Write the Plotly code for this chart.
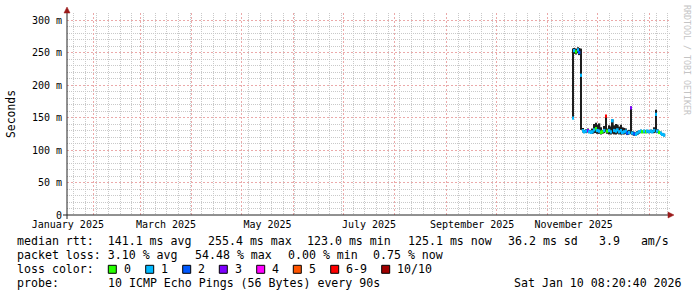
import plotly.graph_objects as go
import pandas as pd

# ---------------- data ----------------
start_day = "2025-11-16"
median_ms = [149, 253, 251, 254, 250, 215, 130, 128, 129, 130, 128, 127, 128, 131, 133, 130,
             129, 127, 128, 130, 152, 129, 130, 128, 145, 130, 129, 131, 128, 130, 127, 128,
             129, 126, 127, 165, 126, 125, 124, 126, 128, 129, 128, 129, 128, 129, 128, 129,
             128, 130, 155, 129, 127, 126, 124, 123]
smoke_lo = [148, 248, 247, 249, 246, 131, 127, 126, 126, 127, 126, 125, 125, 126, 126, 125,
            125, 124, 125, 126, 128, 125, 124, 124, 125, 124, 124, 125, 124, 124, 124, 124,
            125, 123, 124, 125, 123, 122, 122, 123, 125, 126, 126, 126, 126, 126, 126, 126,
            126, 126, 127, 126, 125, 124, 122, 121]
smoke_hi = [256, 257, 256, 258, 257, 256, 134, 131, 132, 133, 131, 130, 133, 140, 142, 139,
            141, 135, 131, 137, 154, 133, 138, 136, 147, 138, 140, 139, 136, 139, 135, 134,
            133, 130, 131, 167, 129, 128, 127, 129, 130, 131, 130, 131, 130, 131, 130, 131,
            131, 135, 162, 132, 129, 128, 126, 125]
loss_cnt = [1, 1, 0, 1, 2, 1, 1, 1, 1, 3, 1, 1, 1, 1, 0, 1,
            1, 0, 0, 1, 6, 0, 1, 1, 1, 1, 1, 1, 1, 1, 1, 1,
            1, 2, 1, 3, 1, 2, 1, 1, 1, 1, 0, 1, 0, 1, 1, 1,
            1, 1, 1, 1, 0, 1, 1, 1]

loss_labels = ["0", "1", "2", "3", "4", "5", "6-9", "10/10"]
loss_colors = ["#26ff00", "#00b8ff", "#0059ff", "#7e00ff", "#ff00ff", "#ff5500", "#ff0000", "#a10000"]

rtt_stats = [141.1, 255.4, 123.0, 125.1]   # avg, max, min, now (ms)
rtt_sd = 36.2
rtt_ams = 3.9
loss_stats = [3.10, 54.48, 0.00, 0.75]     # avg, max, min, now (%)
probe_text = "10 ICMP Echo Pings (56 Bytes) every 90s"
stamp_text = "Sat Jan 10 08:20:40 2026"

x_start = "2025-01-16 00:00"
x_end = "2026-01-13 09:07"
first_monday = "2025-01-20"
label_months = ["2025-01-16 12:00", "2025-03-16 12:00", "2025-05-16 12:00",
                "2025-07-16 12:00", "2025-09-16 12:00", "2025-11-16 12:00"]
label_texts = ["January 2025", "March 2025", "May 2025", "July 2025", "September 2025", "November 2025"]
y_ticks = [0, 50, 100, 150, 200, 250, 300]
y_ticktext = ["0" if v == 0 else f"{v} m" for v in y_ticks]
y_minor = [v for v in range(10, 301, 10) if v % 50]

# ---------------- derived ----------------
days = pd.date_range(start_day, periods=len(median_ms), freq="D")
month_starts = pd.date_range("2025-02-01", "2026-01-01", freq="MS")
mondays = [d for d in pd.date_range(first_monday, "2026-01-12", freq="7D")
           if d.day != 1]


def loss_color(n):
    if n >= 10:
        return loss_colors[7]
    if n >= 6:
        return loss_colors[6]
    return loss_colors[n]


DAY_MS = 86400000
MONO = "DejaVu Sans Mono"
RED_GRID = "#eba9a9"
GRAY_GRID = "#c9c9c9"

fig = go.Figure()
fig.add_trace(go.Bar(
    x=days, y=[h - l for h, l in zip(smoke_hi, smoke_lo)], base=smoke_lo,
    width=DAY_MS, marker=dict(color="#1e1e1e", line=dict(width=0)),
    showlegend=False, hoverinfo="skip"))
fig.add_trace(go.Bar(
    x=days, y=[5] * len(median_ms), base=[m - 2.5 for m in median_ms],
    width=DAY_MS, marker=dict(color=[loss_color(n) for n in loss_cnt], line=dict(width=0)),
    showlegend=False, hoverinfo="skip"))
# anchor trace for label axis
fig.add_trace(go.Scatter(x=[label_months[0]], y=[None], xaxis="x2", mode="markers",
                         showlegend=False, hoverinfo="skip"))

W, H = 697, 297
L, R, T, B = 67, 670, 13, 215


def px(p):
    return (p - L) / (R - L)


def py(p):
    return (B - p) / (B - T)


fig.update_layout(
    width=W, height=H,
    margin=dict(l=L, r=W - R, t=T, b=H - B),
    paper_bgcolor="white", plot_bgcolor="white",
    barmode="overlay",
    font=dict(family=MONO, size=10, color="#000"),
    xaxis=dict(
        type="date", range=[x_start, x_end],
        tickmode="array", tickvals=list(month_starts), showticklabels=False, ticks="",
        showgrid=True, gridcolor=RED_GRID, griddash="2px,2px", gridwidth=1,
        minor=dict(tickmode="array", tickvals=mondays, showgrid=True,
                   gridcolor=GRAY_GRID, griddash="1px,1px", gridwidth=1, ticks=""),
        showline=False, zeroline=False, fixedrange=True),
    xaxis2=dict(
        type="date", range=[x_start, x_end], overlaying="x", anchor="y", side="bottom",
        tickmode="array", tickvals=label_months, ticktext=label_texts, ticks="",
        showgrid=False, showline=False, zeroline=False, ticklabelstandoff=2,
        tickfont=dict(family=MONO, size=10, color="#000")),
    yaxis=dict(
        range=[0, 310.8], tickmode="array", tickvals=y_ticks, ticktext=y_ticktext, ticks="",
        showgrid=True, gridcolor=RED_GRID, griddash="2px,2px", gridwidth=1,
        minor=dict(tickmode="array", tickvals=y_minor, showgrid=True,
                   gridcolor=GRAY_GRID, griddash="1px,1px", gridwidth=1, ticks=""),
        showline=False, zeroline=False, ticklabelstandoff=4,
        tickfont=dict(family=MONO, size=10, color="#000")),
)

AX = "#222222"
ARR = "#9b1a1a"
shapes = [
    dict(type="line", xref="paper", yref="paper", x0=px(63), x1=px(669), y0=py(215), y1=py(215),
         line=dict(color=AX, width=1)),
    dict(type="line", xref="paper", yref="paper", x0=px(67), x1=px(67), y0=py(219), y1=py(12),
         line=dict(color=AX, width=1)),
    dict(type="path", xref="paper", yref="paper",
         path=f"M {px(64)},{py(13)} L {px(70)},{py(13)} L {px(67)},{py(7)} Z",
         fillcolor=ARR, line=dict(color=ARR, width=0.5)),
    dict(type="path", xref="paper", yref="paper",
         path=f"M {px(668)},{py(212)} L {px(668)},{py(218)} L {px(674)},{py(215)} Z",
         fillcolor=ARR, line=dict(color=ARR, width=0.5)),
]

NB = "\u00a0"


def t(s):
    return s.replace(" ", NB)


annotations = []


def add_text(x, ycen, s, size=11.6, color="#000", **kw):
    annotations.append(dict(xref="paper", yref="paper", x=px(x), y=py(ycen), text=t(s),
                            showarrow=False, xanchor="left", yanchor="middle", borderpad=0,
                            font=dict(family=MONO, size=size, color=color), **kw))


rows = [241.5, 255.3, 269.3, 283.0]
# row 1
add_text(16, rows[0], f"median rtt:  {rtt_stats[0]:.1f} ms avg")
add_text(207, rows[0], f"{rtt_stats[1]:.1f} ms max")
add_text(306, rows[0], f"{rtt_stats[2]:.1f} ms min")
add_text(407, rows[0], f"{rtt_stats[3]:.1f} ms now")
add_text(507, rows[0], f"{rtt_sd:.1f} ms sd")
add_text(598, rows[0], f"{rtt_ams:.1f}   am/s")
# row 2
add_text(16, rows[1], f"packet loss: {loss_stats[0]:.2f} % avg")
add_text(194, rows[1], f"{loss_stats[1]:.2f} % max")
add_text(287, rows[1], f"{loss_stats[2]:.2f} % min")
add_text(372, rows[1], f"{loss_stats[3]:.2f} % now")
# row 3
add_text(16, rows[2], "loss color:")
box_x = [108.3, 145.7, 182.7, 219.3, 256.7, 293.3, 330.7, 381.7]
for bx, lab, col in zip(box_x, loss_labels, loss_colors):
    shapes.append(dict(type="rect", xref="paper", yref="paper",
                       x0=px(bx), x1=px(bx + 8), y0=py(rows[2] + 4), y1=py(rows[2] - 4),
                       fillcolor=col, line=dict(color="#000", width=1)))
    add_text(bx + 14.5, rows[2], lab)
# row 4
add_text(16, rows[3], "probe:")
add_text(107, rows[3], probe_text)
add_text(513, rows[3], stamp_text)

# axis title and watermark
annotations.append(dict(xref="paper", yref="paper", x=px(11), y=py(114), text="Seconds",
                        showarrow=False, textangle=-90, xanchor="center", yanchor="middle",
                        font=dict(family=MONO, size=11.4, color="#000")))
annotations.append(dict(xref="paper", yref="paper", x=px(687), y=py(60),
                        text=t("RRDTOOL / TOBI OETIKER"),
                        showarrow=False, textangle=90, xanchor="center", yanchor="middle",
                        font=dict(family=MONO, size=8.3, color="#c4c4c4")))

fig.update_layout(shapes=shapes, annotations=annotations)
fig.write_html("out.html")
